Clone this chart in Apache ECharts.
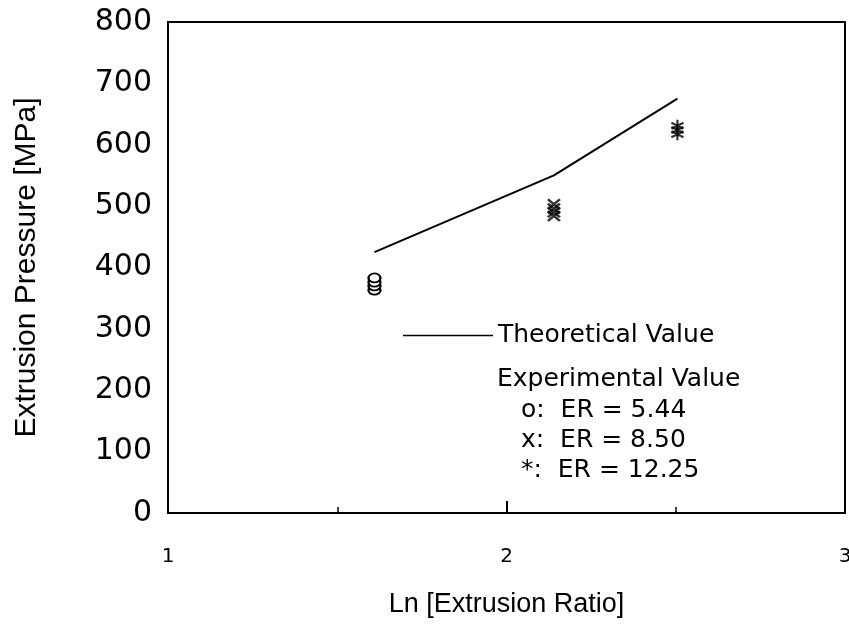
<!DOCTYPE html>
<html>
<head>
<meta charset="utf-8">
<script src="https://cdn.jsdelivr.net/npm/echarts@6/dist/echarts.min.js"></script>
<style>
  html, body { margin: 0; padding: 0; background: #fff; }
  #chart { width: 849px; height: 626px; }
</style>
</head>
<body>
<div id="chart"></div>
<script>
  // theoretical curve, Ln(ER) vs pressure
  var theoryX = [1.61, 2.14, 2.505];
  var theoryY = [425, 550, 675];

  // experimental points
  var er544X = 1.61;
  var er544Y = [363, 370, 376, 383];
  var er850X = 2.14;
  var er850Y = [484, 490, 496, 503];
  var er1225X = 2.505;
  var er1225Y = [617, 624, 631];

  var legendLines = ['Experimental Value', 'o:  ER = 5.44', 'x:  ER = 8.50', '*:  ER = 12.25'];

  function pairs(x, ys) {
    var out = [];
    for (var i = 0; i < ys.length; i++) {
      out.push([x, ys[i]]);
    }
    return out;
  }

  var theory = [];
  for (var i = 0; i < theoryX.length; i++) {
    theory.push([theoryX[i], theoryY[i]]);
  }

  var font = 'DejaVu Sans';
  var chart = echarts.init(document.getElementById('chart'));

  var option = {
    animation: false,
    backgroundColor: '#fff',
    grid: {
      left: 168,
      right: 4,
      top: 22,
      bottom: 113,
      outerBoundsMode: 'none',
      show: true,
      borderColor: '#000',
      borderWidth: 2
    },
    legend: {
      data: [{ name: 'Theoretical Value', icon: 'rect' }],
      left: 398,
      top: 318,
      itemWidth: 90,
      itemHeight: 1.5,
      itemGap: 4,
      textStyle: { fontFamily: font, fontSize: 25, color: '#000' }
    },
    graphic: legendLines.map(function (t, k) {
      return {
        type: 'text',
        left: k === 0 ? 497 : 521,
        top: [367, 398, 428, 458][k],
        style: { text: t, fontFamily: font, fontSize: 25, fill: '#000' }
      };
    }),
    xAxis: {
      type: 'value',
      min: 1,
      max: 3,
      interval: 1,
      name: 'Ln [Extrusion Ratio]',
      nameLocation: 'middle',
      nameGap: 78,
      nameTextStyle: { fontFamily: 'Liberation Sans', fontSize: 27, color: '#000' },
      axisLine: { lineStyle: { color: '#000', width: 2 } },
      axisTick: { inside: true, length: 12, lineStyle: { color: '#000', width: 2 } },
      minorTick: { show: true, splitNumber: 2, length: 6, lineStyle: { color: '#000', width: 1.5 } },
      axisLabel: { fontFamily: font, fontSize: 20, color: '#000', margin: 34 },
      splitLine: { show: false }
    },
    yAxis: {
      type: 'value',
      min: 0,
      max: 800,
      interval: 100,
      name: 'Extrusion Pressure [MPa]',
      nameLocation: 'middle',
      nameGap: 126,
      nameTextStyle: { fontFamily: 'Liberation Sans', fontSize: 30, color: '#000' },
      axisLine: { lineStyle: { color: '#000', width: 2 } },
      axisTick: { show: false },
      axisLabel: { fontFamily: font, fontSize: 30, color: '#000', margin: 16 },
      splitLine: { show: false }
    },
    series: [
      {
        name: 'Theoretical Value',
        type: 'line',
        data: theory,
        symbol: 'none',
        lineStyle: { color: '#000', width: 2 },
        itemStyle: { color: '#000' }
      },
      {
        name: 'ER = 5.44',
        type: 'scatter',
        data: pairs(er544X, er544Y),
        symbol: 'circle',
        symbolSize: [12, 9],
        itemStyle: { color: '#fff', borderColor: '#000', borderWidth: 2, opacity: 1 }
      },
      {
        name: 'ER = 8.50',
        type: 'scatter',
        data: pairs(er850X, er850Y),
        symbol: 'path://M0,0L10,10M10,0L0,10',
        symbolSize: [12, 10],
        itemStyle: { color: 'rgba(0,0,0,0)', borderColor: '#000', borderWidth: 2.5 }
      },
      {
        name: 'ER = 12.25',
        type: 'scatter',
        data: pairs(er1225X, er1225Y),
        symbol: 'path://M5,0L5,10M0.67,2.5L9.33,7.5M0.67,7.5L9.33,2.5',
        symbolSize: [12, 12],
        itemStyle: { color: 'rgba(0,0,0,0)', borderColor: '#000', borderWidth: 2.2 }
      }
    ]
  };

  chart.setOption(option);
</script>
</body>
</html>
